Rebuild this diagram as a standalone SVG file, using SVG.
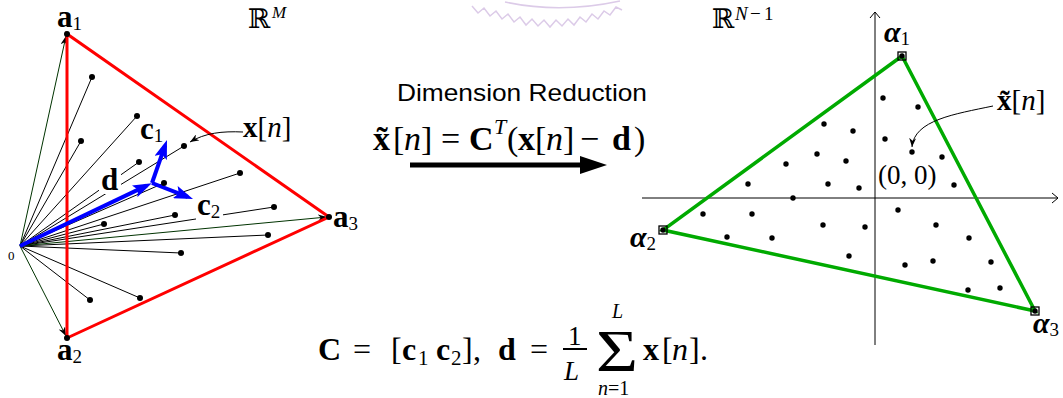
<svg xmlns="http://www.w3.org/2000/svg" width="1063" height="398" viewBox="0 0 1063 398">
<style>
.m{font-family:"Liberation Serif","DejaVu Serif",serif;fill:#000}
.b{font-weight:bold}
.i{font-style:italic}
.bi{font-weight:bold;font-style:italic}
.bb{font-family:"DejaVu Serif",serif}
.thin{stroke:#000;stroke-width:1;fill:none}
.gv{stroke:#003300;stroke-width:1;fill:none}
.blue{stroke:#0000ff;stroke-width:4;fill:none}
.dot{fill:#000}
.sq{fill:none;stroke:#000;stroke-width:1.3}
</style>
<defs>
<marker id="ah" viewBox="0 0 10 10" refX="10" refY="5" markerWidth="9" markerHeight="7" markerUnits="userSpaceOnUse" orient="auto" preserveAspectRatio="none"><path d="M0,0 L10,5 L0,10 L3,5 Z" fill="#000"/></marker>
<marker id="bh" viewBox="0 0 10 10" refX="7" refY="5" markerWidth="19" markerHeight="13" markerUnits="userSpaceOnUse" orient="auto" preserveAspectRatio="none"><path d="M0,0 L10,5 L0,10 L2,5 Z" fill="#0000ff"/></marker>
<marker id="kh" viewBox="0 0 10 10" refX="3.7" refY="5" markerWidth="27" markerHeight="18" markerUnits="userSpaceOnUse" orient="auto" preserveAspectRatio="none"><path d="M0,0 L10,5 L0,10 Z" fill="#000"/></marker>
</defs>

<g id="watermark" fill="none" stroke="#dccbe8" stroke-width="1.5">
<path d="M505,2 Q560,14 620,1"/>
<path d="M472,6 L478,13 L484,8 L490,16 L496,11 L502,19 L508,14 L514,22 L520,17 L526,25 L532,19 L538,26 L544,20 L550,27 L556,20 L562,26 L568,19 L574,25 L580,17 L586,22 L592,14 L598,19 L604,11 L610,15 L616,7 L622,10"/>
</g>

<g id="connectors">
<g class="thin">
<line x1="20" y1="246" x2="92" y2="77"/>
<line x1="20" y1="246" x2="137" y2="116"/>
<line x1="20" y1="246" x2="81" y2="141"/>
<line x1="20" y1="246" x2="139" y2="162"/>
<line x1="20" y1="246" x2="184" y2="146"/>
<line x1="20" y1="246" x2="164" y2="183"/>
<line x1="20" y1="246" x2="240" y2="173"/>
<line x1="20" y1="246" x2="104" y2="224"/>
<line x1="20" y1="246" x2="175" y2="215"/>
<line x1="20" y1="246" x2="274" y2="207"/>
<line x1="20" y1="246" x2="268" y2="235"/>
<line x1="20" y1="246" x2="181" y2="253"/>
<line x1="20" y1="246" x2="90" y2="300"/>
<line x1="20" y1="246" x2="140" y2="298"/>
</g>
<g class="gv">
<line x1="20" y1="246" x2="66" y2="36" marker-end="url(#ah)"/>
<line x1="20" y1="246" x2="66" y2="336" marker-end="url(#ah)"/>
<line x1="20" y1="246" x2="327" y2="217" marker-end="url(#ah)"/>
</g>
<polygon points="67,34 67,338 329,217" fill="none" stroke="#ff0000" stroke-width="3"/>
<path d="M243,132 C222,131 205,133 190,142" class="thin" marker-end="url(#ah)"/>
<g class="blue">
<line x1="20" y1="246" x2="146.6" y2="185.6" marker-end="url(#bh)"/>
<line x1="152" y1="183" x2="165.1" y2="145.4" marker-end="url(#bh)"/>
<line x1="152" y1="183" x2="187.7" y2="196.9" marker-end="url(#bh)"/>
</g>
<line x1="410" y1="165" x2="590" y2="165" stroke="#000" stroke-width="5" marker-end="url(#kh)"/>
<g class="thin">
<line x1="642" y1="198" x2="1058" y2="198"/>
<polyline points="1052,193 1058,198 1052,203"/>
<line x1="875" y1="345" x2="875" y2="12"/>
<polyline points="870,18 875,12 880,18"/>
</g>
<polygon points="902,56 663,230 1035,311" fill="none" stroke="#00aa00" stroke-width="3.5"/>
<path d="M993,106 C955,114 914,120 912,147" class="thin" marker-end="url(#ah)"/>
</g>

<g id="left-points" class="dot">
<circle cx="67" cy="34" r="3"/><circle cx="67" cy="338" r="3"/><circle cx="329" cy="217" r="3"/>
<circle cx="92" cy="77" r="3"/><circle cx="137" cy="116" r="3"/><circle cx="81" cy="141" r="3"/>
<circle cx="139" cy="162" r="3"/><circle cx="184" cy="146" r="3"/><circle cx="164" cy="183" r="3"/>
<circle cx="240" cy="173" r="3"/><circle cx="104" cy="224" r="3"/><circle cx="175" cy="215" r="3"/>
<circle cx="274" cy="207" r="3"/><circle cx="268" cy="235" r="3"/><circle cx="181" cy="253" r="3"/>
<circle cx="90" cy="300" r="3"/><circle cx="140" cy="298" r="3"/>
</g>

<g id="right-points" class="dot">
<circle cx="883" cy="98" r="2.7"/><circle cx="918" cy="107" r="2.7"/><circle cx="824" cy="124" r="2.7"/>
<circle cx="853" cy="131" r="2.7"/><circle cx="885" cy="139" r="2.7"/><circle cx="912" cy="152" r="2.7"/>
<circle cx="817" cy="154" r="2.7"/><circle cx="846" cy="161" r="2.7"/><circle cx="942" cy="157" r="2.7"/>
<circle cx="786" cy="164" r="2.7"/><circle cx="748" cy="184" r="2.7"/><circle cx="828" cy="184" r="2.7"/>
<circle cx="859" cy="188" r="2.7"/><circle cx="954" cy="185" r="2.7"/><circle cx="793" cy="198" r="2.7"/>
<circle cx="703" cy="214" r="2.7"/><circle cx="752" cy="214" r="2.7"/><circle cx="898" cy="210" r="2.7"/>
<circle cx="823" cy="225" r="2.7"/><circle cx="865" cy="227" r="2.7"/><circle cx="936" cy="225" r="2.7"/>
<circle cx="727" cy="237" r="2.7"/><circle cx="772" cy="238" r="2.7"/><circle cx="969" cy="238" r="2.7"/>
<circle cx="849" cy="256" r="2.7"/><circle cx="905" cy="265" r="2.7"/><circle cx="933" cy="261" r="2.7"/>
<circle cx="991" cy="262" r="2.7"/><circle cx="968" cy="290" r="2.7"/><circle cx="1000" cy="288" r="2.7"/>
</g>

<g id="alpha1"><rect x="898" y="52" width="8" height="8" class="sq"/><circle cx="902" cy="56" r="2.7" class="dot"/>
<text class="m" x="884" y="42"><tspan class="bi" font-size="30">α</tspan><tspan font-size="19" dy="3">1</tspan></text></g>
<g id="alpha2"><rect x="659" y="226" width="8" height="8" class="sq"/><circle cx="663" cy="230" r="2.7" class="dot"/>
<text class="m" x="630" y="247"><tspan class="bi" font-size="30">α</tspan><tspan font-size="19" dy="3">2</tspan></text></g>
<g id="alpha3"><rect x="1031" y="307" width="8" height="8" class="sq"/><circle cx="1035" cy="311" r="2.7" class="dot"/>
<text class="m" x="1033" y="333"><tspan class="bi" font-size="30">α</tspan><tspan font-size="19" dy="3">3</tspan></text></g>

<g id="labels-left">
<text class="m" x="57" y="27"><tspan class="b" font-size="31">a</tspan><tspan font-size="19" dy="3">1</tspan></text>
<text class="m" x="57" y="360"><tspan class="b" font-size="31">a</tspan><tspan font-size="19" dy="3">2</tspan></text>
<text class="m" x="333" y="227"><tspan class="b" font-size="31">a</tspan><tspan font-size="19" dy="3">3</tspan></text>
<text class="m" x="8" y="260" font-size="13">0</text>
<text class="bb" x="248" y="28" font-size="27">ℝ</text><text class="m i" x="272" y="18" font-size="17">M</text>
<text class="m" x="140" y="139"><tspan class="b" font-size="31">c</tspan><tspan font-size="19" dy="3">1</tspan></text>
<rect x="99" y="168" width="22" height="26" fill="#fff"/>
<text class="m b" x="101" y="190" font-size="31">d</text>
<rect x="196" y="198" width="27" height="22" fill="#fff"/>
<text class="m" x="197" y="215"><tspan class="b" font-size="31">c</tspan><tspan font-size="19" dy="3">2</tspan></text>
<text class="m" x="243" y="137" font-size="29"><tspan class="b">x</tspan>[<tspan class="i">n</tspan>]</text>
</g>

<g id="labels-right">
<text class="bb" x="712" y="28" font-size="27">ℝ</text>
<text class="m" y="20" font-size="19"><tspan class="i" x="735">N</tspan><tspan x="750">−</tspan><tspan x="764">1</tspan></text>
<text class="m" x="997" y="110" font-size="29"><tspan class="b">x̃</tspan>[<tspan class="i">n</tspan>]</text>
<text class="m" x="878" y="184" font-size="27">(0, 0)</text>
</g>

<g id="middle">
<text x="397" y="101" font-family="Liberation Sans, Arial, sans-serif" font-size="24" textLength="250" lengthAdjust="spacingAndGlyphs">Dimension Reduction</text>
<text class="m" y="150" font-size="34"><tspan class="b" x="373">x̃</tspan><tspan x="393">[</tspan><tspan class="i" x="404">n</tspan><tspan x="421">]</tspan><tspan x="441">=</tspan><tspan class="b" x="469">C</tspan><tspan class="i" x="494" y="134" font-size="22">T</tspan><tspan x="507" y="150">(</tspan><tspan class="b" x="518">x</tspan><tspan x="535">[</tspan><tspan class="i" x="546">n</tspan><tspan x="563">]</tspan><tspan x="580">−</tspan><tspan class="b" x="612">d</tspan><tspan x="634">)</tspan></text>
</g>

<g id="bottom-formula">
<text class="m" y="360" font-size="32"><tspan class="b" x="318">C</tspan><tspan x="353">=</tspan><tspan x="391">[</tspan><tspan class="b" x="402">c</tspan><tspan x="418" y="365" font-size="21">1</tspan><tspan class="b" x="436" y="360">c</tspan><tspan x="451" y="365" font-size="21">2</tspan><tspan x="462" y="360">]</tspan><tspan x="473">,</tspan><tspan class="b" x="498">d</tspan><tspan x="530">=</tspan></text>
<text class="m" x="568" y="345" font-size="27">1</text>
<line x1="563" y1="349" x2="587" y2="349" stroke="#000" stroke-width="2"/>
<text class="m i" x="564" y="380" font-size="27">L</text>
<text class="m" x="596" y="371" font-size="60" textLength="42" lengthAdjust="spacingAndGlyphs">Σ</text>
<text class="m i" x="612" y="318" font-size="20">L</text>
<text class="m" x="598" y="395" font-size="20"><tspan class="i">n</tspan>=1</text>
<text class="m" y="360" font-size="32"><tspan class="b" x="643">x</tspan><tspan x="662">[</tspan><tspan class="i" x="672">n</tspan><tspan x="689">]</tspan><tspan x="700">.</tspan></text>
</g>
</svg>
